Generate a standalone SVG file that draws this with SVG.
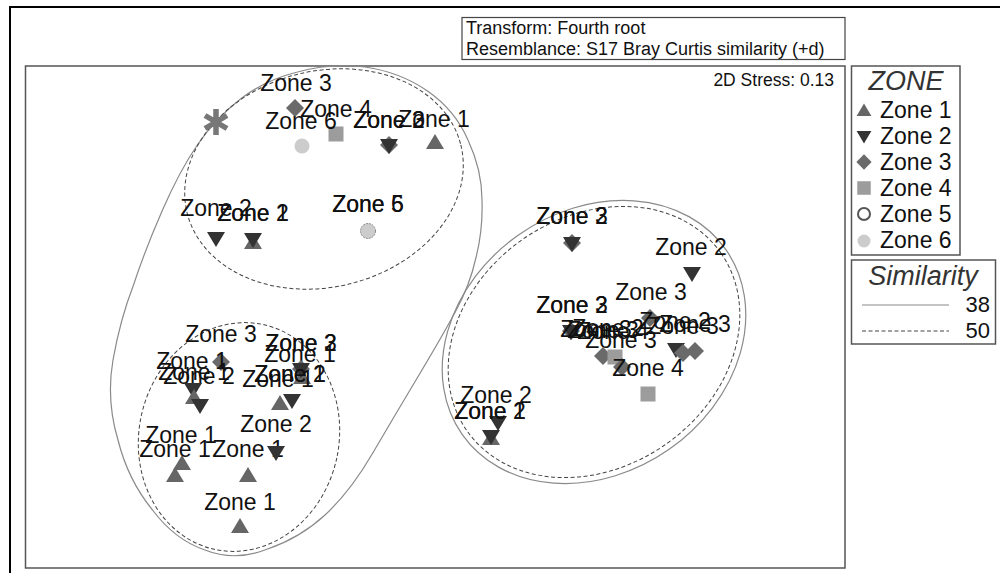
<svg xmlns="http://www.w3.org/2000/svg" width="1000" height="573" viewBox="0 0 1000 573">
<style>
.lb{font-family:'Liberation Sans',Arial,sans-serif;font-size:23px;fill:#111;text-anchor:middle}
.lg{font-family:'Liberation Sans',Arial,sans-serif;font-size:23px;fill:#111}
.ttl{font-family:'Liberation Sans',Arial,sans-serif;font-size:27px;font-style:italic;fill:#333;text-anchor:middle}
.hd{font-family:'Liberation Sans',Arial,sans-serif;font-size:18px;fill:#111}
.sol{fill:none;stroke:#8a8a8a;stroke-width:1.2}
.dsh{fill:none;stroke:#444;stroke-width:1;stroke-dasharray:4 2.5}
.box{fill:#fff;stroke:#555;stroke-width:1.5}
</style>
<defs>
<path id="tu" d="M0,-9 L9,6 L-9,6 Z" fill="#666"/>
<path id="td" d="M0,9 L9,-6 L-9,-6 Z" fill="#333"/>
<path id="dm" d="M0,-9 L9,0 L0,9 L-9,0 Z" fill="#6a6a6a"/>
<rect id="sq" x="-7.5" y="-7.5" width="15" height="15" fill="#9c9c9c"/>
<circle id="c6" r="7.5" fill="#ccc"/>
</defs>
<rect x="0" y="0" width="1000" height="573" fill="#fff"/>
<rect x="10" y="7" width="1000" height="580" fill="none" stroke="#000" stroke-width="2"/>
<g id="header">
<rect x="462" y="17.5" width="383" height="42" fill="#fff" stroke="#444" stroke-width="1.2"/>
<text class="hd" x="466" y="33.5">Transform: Fourth root</text>
<text class="hd" x="466" y="54.5">Resemblance: S17 Bray Curtis similarity (+d)</text>
</g>
<rect id="plot" class="box" x="25.5" y="66" width="819.5" height="502"/>
<text class="hd" x="834" y="86" text-anchor="end" style="font-size:17.5px">2D Stress: 0.13</text>
<g id="connectors">
<path class="sol" d="M198,144 Q216,118 240.5,99 Q265,80 297.5,72 Q330,63 365,67 Q400,72 427.5,91 Q455,110 468,140 Q482,170 482,200 Q483,230 476,257.5 Q470,285 455,312.5 Q440,340 417.5,377.5 Q395,415 372.5,453.5 Q350,492 325,515 Q300,538 267.5,549 Q235,562 205,550 Q175,540 152.5,510 Q128,480 118,440 Q106,400 113,360 Q120,320 133.5,285 Q145,250 162.5,210 Q180,170 198,144 Z"/>
<ellipse class="dsh" cx="324" cy="179" rx="141" ry="108" transform="rotate(-14 324 179)"/>
<ellipse class="dsh" cx="239" cy="437" rx="100" ry="115" transform="rotate(12 239 437)"/>
<ellipse class="sol" cx="594" cy="342" rx="161" ry="131" transform="rotate(-35 594 342)"/>
<ellipse class="dsh" cx="594" cy="342" rx="155" ry="125" transform="rotate(-35 594 342)"/>
</g>
<g id="pt-star"><path d="M216,109 V135 M205,115.5 L227,128.5 M205,128.5 L227,115.5" stroke="#777" stroke-width="5.5" fill="none"/></g>
<g id="a1"><text class="lb" x="296" y="91">Zone 3</text><use href="#dm" x="295" y="108"/></g>
<g id="a2"><text class="lb" x="336" y="117">Zone 4</text><use href="#sq" x="336" y="134"/></g>
<g id="a3"><text class="lb" x="301" y="129">Zone 6</text><use href="#c6" x="302" y="146"/></g>
<g id="a4"><text class="lb" x="389" y="128">Zone 3</text><text class="lb" x="389" y="128">Zone 2</text><use href="#dm" x="389" y="145"/><use href="#td" x="389" y="145"/></g>
<g id="a5"><text class="lb" x="434" y="127">Zone 1</text><use href="#tu" x="435" y="143"/></g>
<g id="a6"><text class="lb" x="216" y="216">Zone 2</text><use href="#td" x="216" y="238"/></g>
<g id="a7"><text class="lb" x="253" y="221">Zone 2</text><text class="lb" x="253" y="221">Zone 1</text><use href="#tu" x="253" y="243"/><use href="#td" x="253" y="239"/></g>
<g id="a8"><text class="lb" x="368" y="212">Zone 5</text><text class="lb" x="368" y="212">Zone 6</text><use href="#c6" x="368" y="231"/><circle cx="368" cy="231" r="7.5" fill="none" stroke="#888" stroke-width="1" stroke-dasharray="2 1"/></g>
<g id="b1"><text class="lb" x="572" y="224">Zone 3</text><text class="lb" x="572" y="224">Zone 2</text><use href="#dm" x="572" y="243"/><use href="#td" x="572" y="243"/></g>
<g id="b2"><text class="lb" x="691" y="255">Zone 2</text><use href="#td" x="692" y="273"/></g>
<g id="b3"><text class="lb" x="651" y="300">Zone 3</text><use href="#dm" x="650" y="318"/></g>
<g id="b4"><text class="lb" x="572" y="313">Zone 3</text><text class="lb" x="572" y="313">Zone 2</text><use href="#dm" x="571" y="331"/><use href="#td" x="571" y="331"/></g>
<g id="b5"><text class="lb" x="596" y="337">Zone 3</text><text class="lb" x="603" y="338">Zone 3</text><text class="lb" x="608" y="336">Zone 2</text><text class="lb" x="613" y="339">Zone 4</text><use href="#dm" x="603" y="356"/><use href="#sq" x="615" y="357"/></g>
<g id="b7"><text class="lb" x="621" y="348">Zone 3</text><use href="#dm" x="622" y="367"/></g>
<g id="b8"><text class="lb" x="675" y="329">Zone 2</text><text class="lb" x="683" y="334">Zone 3</text><text class="lb" x="695" y="332">Zone 3</text><use href="#td" x="676" y="349"/><use href="#dm" x="683" y="353"/><use href="#dm" x="695" y="351"/></g>
<g id="b11"><text class="lb" x="648" y="376">Zone 4</text><use href="#sq" x="648" y="394"/></g>
<g id="b12"><text class="lb" x="496" y="403">Zone 2</text><use href="#td" x="498" y="422"/></g>
<g id="b13"><text class="lb" x="490" y="419">Zone 2</text><text class="lb" x="490" y="419">Zone 1</text><use href="#tu" x="491" y="439"/><use href="#td" x="491" y="436"/></g>
<g id="c1"><text class="lb" x="221" y="342">Zone 3</text><use href="#dm" x="221" y="362"/></g>
<g id="c2"><text class="lb" x="301" y="351">Zone 3</text><text class="lb" x="301" y="351">Zone 2</text><text class="lb" x="300" y="362">Zone 1</text><use href="#dm" x="301" y="369"/><use href="#tu" x="302" y="378"/><use href="#td" x="301" y="369"/></g>
<g id="c3"><text class="lb" x="192" y="369">Zone 1</text><text class="lb" x="194" y="380">Zone 1</text><text class="lb" x="199" y="384">Zone 2</text><use href="#td" x="193" y="389"/><use href="#tu" x="194" y="398"/><use href="#td" x="200" y="405"/></g>
<g id="c4"><text class="lb" x="290" y="382">Zone 1</text><text class="lb" x="290" y="382">Zone 2</text><text class="lb" x="278" y="387">Zone 1</text><use href="#tu" x="280" y="404"/><use href="#td" x="292" y="400"/></g>
<g id="c5p"><text class="lb" x="276" y="432">Zone 2</text></g>
<g id="c6p"><text class="lb" x="181" y="443">Zone 1</text><use href="#tu" x="182" y="464"/></g>
<g id="c7"><text class="lb" x="175" y="457">Zone 1</text><use href="#tu" x="175" y="476"/></g>
<g id="c8"><text class="lb" x="248" y="457">Zone 1</text><use href="#tu" x="248" y="476"/></g>
<use href="#td" x="276" y="452"/>
<g id="c9"><text class="lb" x="240" y="510">Zone 1</text><use href="#tu" x="240" y="527"/></g>
<g id="legend-zone">
<rect class="box" x="851.5" y="66" width="108.5" height="189"/>
<text class="ttl" x="906" y="90">ZONE</text>
<use href="#tu" transform="translate(864 111) scale(0.82)"/><text class="lg" x="880" y="118">Zone 1</text>
<use href="#td" transform="translate(864 136) scale(0.82)"/><text class="lg" x="880" y="144">Zone 2</text>
<use href="#dm" transform="translate(864 162) scale(0.85)"/><text class="lg" x="880" y="170">Zone 3</text>
<use href="#sq" transform="translate(864 188) scale(0.9)"/><text class="lg" x="880" y="196">Zone 4</text>
<circle cx="864" cy="214" r="6" fill="none" stroke="#555" stroke-width="2"/><text class="lg" x="880" y="222">Zone 5</text>
<circle cx="864" cy="241" r="6.5" fill="#ccc"/><text class="lg" x="880" y="248">Zone 6</text>
</g>
<g id="legend-sim">
<rect class="box" x="851.5" y="260" width="144" height="84"/>
<text class="ttl" x="923" y="285">Similarity</text>
<line x1="862" y1="305" x2="949" y2="305" stroke="#8a8a8a" stroke-width="1.2"/>
<text class="lg" x="990" y="312" text-anchor="end" style="font-size:22px">38</text>
<line x1="862" y1="331" x2="949" y2="331" stroke="#444" stroke-width="1" stroke-dasharray="4 2.5"/>
<text class="lg" x="990" y="338" text-anchor="end" style="font-size:22px">50</text>
</g>
</svg>
